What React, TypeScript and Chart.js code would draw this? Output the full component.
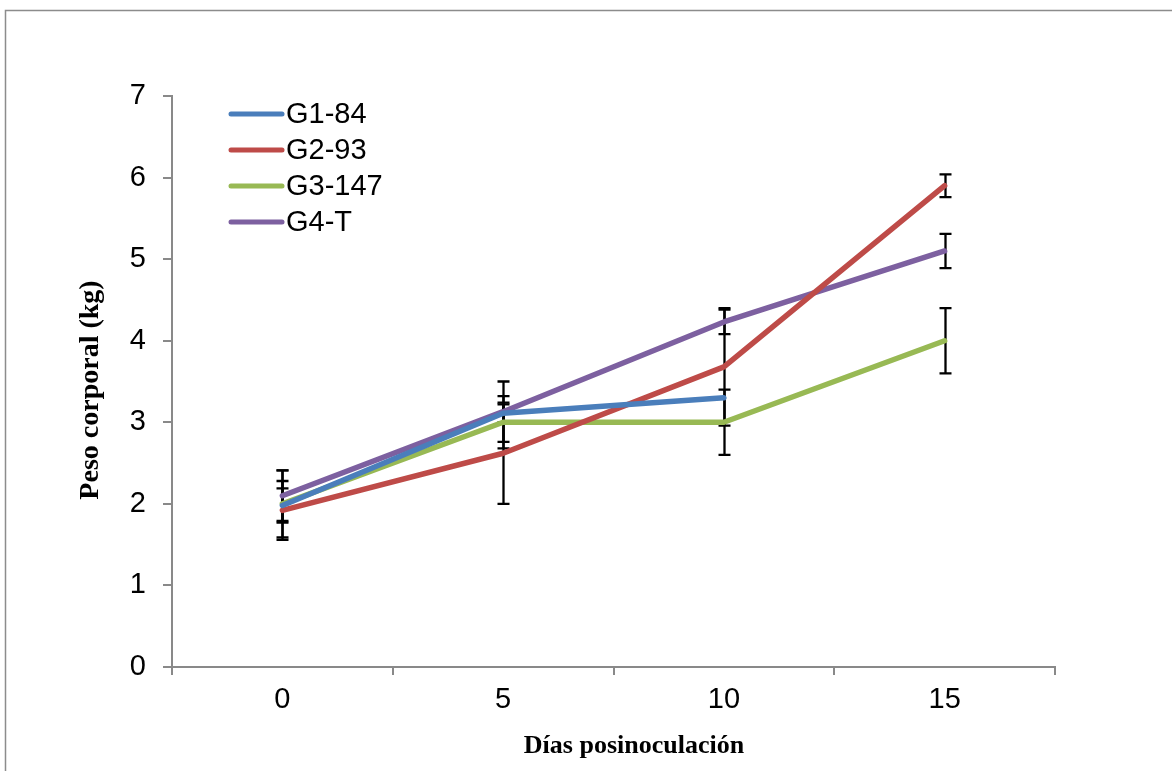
import React, { useEffect, useRef } from "react";
import { Chart, registerables } from "chart.js";

Chart.register(...registerables);

const categories = ["0", "5", "10", "15"];
const seriesNames = ["G1-84", "G2-93", "G3-147", "G4-T"];
const g1Values = [1.98, 3.11, 3.3, null];
const g2Values = [1.92, 2.62, 3.68, 5.9];
const g3Values = [2.0, 3.0, 3.0, 4.0];
const g4Values = [2.1, 3.13, 4.23, 5.1];
const g1Errors = [0.21, 0.11, 0, null];
const g2Errors = [0.36, 0.62, 0.72, 0.14];
const g3Errors = [0.41, 0.32, 0.4, 0.4];
const g4Errors = [0.31, 0.37, 0.15, 0.21];
const yTicks = [0, 1, 2, 3, 4, 5, 6, 7];

const colors = ["#4A7EBB", "#BE4B48", "#98B954", "#7D60A0"];
const allValues = [g1Values, g2Values, g3Values, g4Values];
const allErrors = [g1Errors, g2Errors, g3Errors, g4Errors];

const AXIS_GRAY = "#898989";
const SANS = '"Liberation Sans", Arial, sans-serif';
const SERIF = '"Liberation Serif", "Times New Roman", serif';

const decorPlugin = {
  id: "decor",
  beforeDraw(chart: any) {
    const ctx = chart.ctx;
    ctx.save();
    ctx.fillStyle = "#ffffff";
    ctx.fillRect(0, 0, chart.width, chart.height);
    ctx.strokeStyle = "#8c8c8c";
    ctx.lineWidth = 1.5;
    ctx.strokeRect(5.5, 10.5, 1300, 900);
    ctx.restore();
  },
  beforeDatasetsDraw(chart: any) {
    const ctx = chart.ctx;
    const xs = chart.scales.x;
    const ys = chart.scales.y;
    ctx.save();
    ctx.strokeStyle = "#000000";
    ctx.lineWidth = 2.3;
    allValues.forEach((vals, si) => {
      const errs = allErrors[si];
      vals.forEach((v, i) => {
        const e = errs[i];
        if (v == null || e == null || e === 0) return;
        const x = Math.round(xs.getPixelForValue(i)) + 0.5;
        const yTop = ys.getPixelForValue(v + e);
        const yBot = ys.getPixelForValue(v - e);
        ctx.beginPath();
        ctx.moveTo(x, yTop);
        ctx.lineTo(x, yBot);
        ctx.moveTo(x - 6, yTop);
        ctx.lineTo(x + 6, yTop);
        ctx.moveTo(x - 6, yBot);
        ctx.lineTo(x + 6, yBot);
        ctx.stroke();
      });
    });
    ctx.restore();
  },
  afterDraw(chart: any) {
    const ctx = chart.ctx;
    ctx.save();
    const rowY = [114, 150, 186, 222];
    seriesNames.forEach((name, i) => {
      ctx.strokeStyle = colors[i];
      ctx.lineWidth = 5;
      ctx.lineCap = "round";
      ctx.beginPath();
      ctx.moveTo(231, rowY[i]);
      ctx.lineTo(282, rowY[i]);
      ctx.stroke();
      ctx.fillStyle = "#000000";
      ctx.font = "29px " + SANS;
      ctx.textAlign = "left";
      ctx.textBaseline = "middle";
      ctx.fillText(name, 286, rowY[i] + 1);
    });
    ctx.fillStyle = "#000000";
    ctx.font = "bold 26px " + SERIF;
    ctx.textAlign = "center";
    ctx.textBaseline = "alphabetic";
    ctx.fillText("Días posinoculación", 634, 753);
    ctx.save();
    ctx.font = "bold 28px " + SERIF;
    ctx.translate(98, 390);
    ctx.rotate(-Math.PI / 2);
    ctx.fillText("Peso corporal (kg)", 0, 0);
    ctx.restore();
    ctx.restore();
  },
};

export default function App() {
  const canvasRef = useRef<HTMLCanvasElement | null>(null);

  useEffect(() => {
    if (!canvasRef.current) return;
    const chart = new Chart(canvasRef.current, {
      type: "line",
      data: {
        labels: categories,
        datasets: allValues.map((vals, i) => ({
          label: seriesNames[i],
          data: vals,
          borderColor: colors[i],
          backgroundColor: colors[i],
          borderWidth: 5.5,
          borderCapStyle: "round",
          borderJoinStyle: "round",
          pointRadius: 0,
          pointHoverRadius: 0,
          tension: 0,
          fill: false,
        })),
      },
      options: {
        responsive: false,
        animation: false,
        events: [],
        layout: { padding: { left: 0, top: 96, right: 117, bottom: 0 } },
        plugins: {
          legend: { display: false },
          tooltip: { enabled: false },
          title: { display: false },
        },
        scales: {
          x: {
            type: "category",
            offset: true,
            grid: {
              offset: true,
              drawOnChartArea: false,
              drawTicks: true,
              tickLength: 8,
              color: AXIS_GRAY,
              lineWidth: 2,
            },
            border: { display: true, color: AXIS_GRAY, width: 2 },
            ticks: {
              color: "#000000",
              padding: 8,
              maxRotation: 0,
              font: { family: SANS, size: 29 },
            },
            afterFit: (scale: any) => {
              scale.height = 104;
            },
          },
          y: {
            min: 0,
            max: 7,
            afterBuildTicks: (scale: any) => {
              scale.ticks = yTicks.map((v) => ({ value: v }));
            },
            grid: {
              drawOnChartArea: false,
              drawTicks: true,
              tickLength: 9,
              color: AXIS_GRAY,
              lineWidth: 2,
            },
            border: { display: true, color: AXIS_GRAY, width: 2 },
            ticks: {
              color: "#000000",
              padding: 17,
              font: { family: SANS, size: 29 },
            },
            afterFit: (scale: any) => {
              scale.width = 172;
            },
          },
        },
      },
      plugins: [decorPlugin],
    } as any);
    return () => chart.destroy();
  }, []);

  return (
    <div style={{ position: "fixed", left: 0, top: 0, width: 1172, height: 771, background: "#fff" }}>
      <canvas ref={canvasRef} width={1172} height={771} style={{ display: "block" }} />
    </div>
  );
}
